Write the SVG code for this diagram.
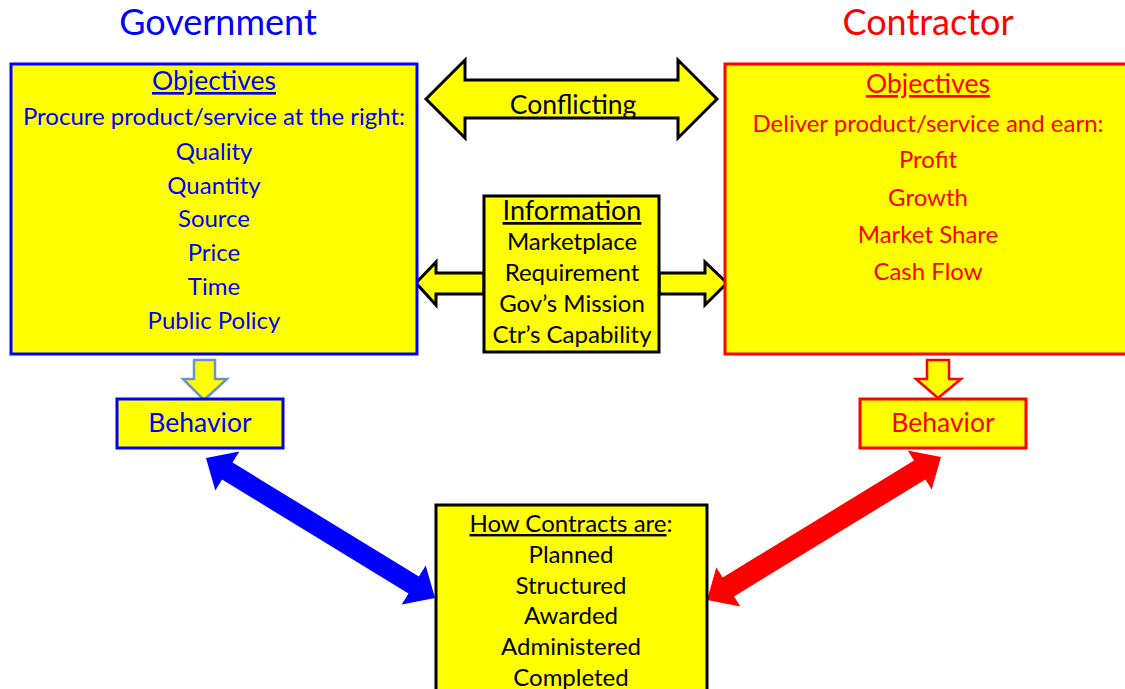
<svg xmlns="http://www.w3.org/2000/svg" width="1125" height="689" viewBox="0 0 1125 689">
  <style>
    text { font-family: Lato, "Open Sans", "Liberation Sans", sans-serif; text-anchor: middle; }
    .title { font-size: 36px; }
    .head { font-size: 26.5px; }
    .item { font-size: 24px; }
    .gov { fill: #0000ff; }
    .ctr { fill: #ff0000; }
    .blk { fill: #000000; }
    .box { fill: #ffff00; stroke-width: 3; }
    .u { text-decoration: underline; }
  </style>
  <defs>
    <clipPath id="conflict-clip">
      <rect x="440" y="70" width="260" height="47"/>
    </clipPath>
  </defs>

  <!-- side titles -->
  <text class="title gov" x="218" y="35">Government</text>
  <text class="title ctr" x="928" y="35">Contractor</text>

  <!-- connectors -->
  <g id="connectors">
    <!-- conflicting objectives -->
    <polygon points="426,99 465,60 465,80 678,80 678,60 717,99 678,138 678,118 465,118 465,138" fill="#ffff00" stroke="#000" stroke-width="3" stroke-linejoin="miter"/>
    <!-- information flows out both sides -->
    <polygon points="484,273 436,273 436,262 416,283 436,305 436,294 484,294" fill="#ffff00" stroke="#000" stroke-width="3"/>
    <polygon points="659,273 705,273 705,262 727,283 705,305 705,294 659,294" fill="#ffff00" stroke="#000" stroke-width="3"/>
    <!-- objectives drive behavior -->
    <polygon points="194,360 215,360 215,379 227,379 204,400 183,379 194,379" fill="#ffff00" stroke="#6f93c4" stroke-width="2.5"/>
    <polygon points="927,360 949,360 949,379 961,379 938,398 916,379 927,379" fill="#ffff00" stroke="#ff0000" stroke-width="2.5"/>
    <!-- behavior shapes contracts -->
    <polygon points="206,458 239.3,451.4 232.5,462.5 418.9,576.5 425.7,565.4 435,598 401.7,604.6 408.5,593.5 222.1,479.5 215.3,490.6" fill="#0000ff"/>
    <polygon points="941,457 907.7,450.4 914,460.6 722.6,577.6 716.3,567.4 707,600 740.3,606.6 734,596.4 925.4,479.4 931.7,489.6" fill="#ff0000"/>
  </g>
  <text class="head blk" x="573" y="114" clip-path="url(#conflict-clip)">Conflicting</text>

  <!-- government objectives -->
  <g id="gov-objectives">
    <rect class="box" x="11" y="64" width="406" height="290" stroke="#0000ff"/>
    <text class="head gov" x="214" y="90"><tspan class="u">Objectives</tspan></text>
    <text class="item gov" x="214" y="125">Procure product/service at the right:</text>
    <text class="item gov" x="214" y="160">Quality</text>
    <text class="item gov" x="214" y="194">Quantity</text>
    <text class="item gov" x="214" y="227">Source</text>
    <text class="item gov" x="214" y="261">Price</text>
    <text class="item gov" x="214" y="295">Time</text>
    <text class="item gov" x="214" y="329">Public Policy</text>
  </g>

  <!-- contractor objectives -->
  <g id="ctr-objectives">
    <rect class="box" x="725" y="64" width="406" height="290" stroke="#ff0000"/>
    <text class="head ctr" x="928" y="93"><tspan class="u">Objectives</tspan></text>
    <text class="item ctr" x="928" y="132">Deliver product/service and earn:</text>
    <text class="item ctr" x="928" y="168">Profit</text>
    <text class="item ctr" x="928" y="206">Growth</text>
    <text class="item ctr" x="928" y="243">Market Share</text>
    <text class="item ctr" x="928" y="280">Cash Flow</text>
  </g>

  <!-- shared information -->
  <g id="information">
    <rect class="box" x="484" y="196" width="175" height="156" stroke="#000"/>
    <text class="head blk" x="572" y="220" style="font-size:27px"><tspan class="u">Information</tspan></text>
    <text class="item blk" x="572" y="250">Marketplace</text>
    <text class="item blk" x="572" y="281">Requirement</text>
    <text class="item blk" x="572" y="312">Gov’s Mission</text>
    <text class="item blk" x="572" y="343">Ctr’s Capability</text>
  </g>

  <!-- behaviors -->
  <g id="gov-behavior">
    <rect class="box" x="117" y="399" width="166" height="49" stroke="#0000ff"/>
    <text class="head gov" x="200" y="432">Behavior</text>
  </g>
  <g id="ctr-behavior">
    <rect class="box" x="860" y="399" width="166" height="49" stroke="#ff0000"/>
    <text class="head ctr" x="943" y="432">Behavior</text>
  </g>

  <!-- contract lifecycle -->
  <g id="contracts">
    <rect class="box" x="436" y="505" width="271" height="200" stroke="#000"/>
    <text class="item blk" x="571" y="532"><tspan class="u">How Contracts are</tspan>:</text>
    <text class="item blk" x="571" y="563">Planned</text>
    <text class="item blk" x="571" y="594">Structured</text>
    <text class="item blk" x="571" y="624">Awarded</text>
    <text class="item blk" x="571" y="655">Administered</text>
    <text class="item blk" x="571" y="686">Completed</text>
  </g>
</svg>
